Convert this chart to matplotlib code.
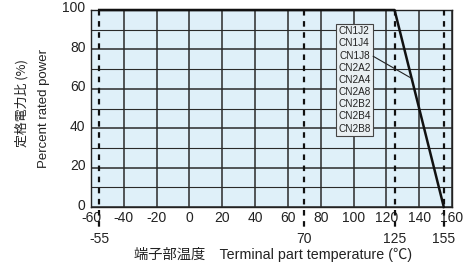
import matplotlib
matplotlib.use("Agg")
import matplotlib.pyplot as plt
from matplotlib.ticker import MultipleLocator
from matplotlib.transforms import ScaledTranslation

plt.rcParams['font.family'] = ['Liberation Sans', 'Noto Sans CJK JP', 'DejaVu Sans']
plt.rcParams['axes.unicode_minus'] = False

# data
curve_x = [-55, 125, 155]
curve_y = [100, 100, 0]
x_ticks = [-60, -40, -20, 0, 20, 40, 60, 80, 100, 120, 140, 160]
y_ticks = [0, 20, 40, 60, 80, 100]
marker_temps = [-55, 70, 125, 155]
models = ["CN1J2", "CN1J4", "CN1J8", "CN2A2", "CN2A4", "CN2A8", "CN2B2", "CN2B4", "CN2B8"]
annot_point = (136, 65)

fig = plt.figure(figsize=(4.72, 2.66), dpi=100)
ax = fig.add_axes([91/472, 1-207/266, (452-91)/472, (207-10)/266])
ax.set_facecolor('#dff0f9')
ax.set_xlim(-60, 160)
ax.set_ylim(0, 100)
ax.set_xticks(x_ticks)
ax.set_yticks(y_ticks)
ax.yaxis.set_minor_locator(MultipleLocator(10))
ax.tick_params(which='both', length=0, labelsize=10, colors='#222222', pad=3)
ax.tick_params(axis='y', pad=4)
for lbl in ax.get_yticklabels():
    lbl.set_transform(lbl.get_transform() + ScaledTranslation(0, 3/100, fig.dpi_scale_trans))
for s in ax.spines.values():
    s.set_color('#222222')
    s.set_linewidth(1.0)

ax.grid(which='major', axis='both', color='#2a2a2a', linewidth=1.1)
ax.grid(which='minor', axis='y', color='#2a2a2a', linewidth=0.8)
ax.set_axisbelow(True)

# dashed marker lines extending below the axis
for t in marker_temps:
    ax.plot([t, t], [100, -10], color='#111111', lw=1.6, ls=(0, (2.5, 2.5)), clip_on=False, zorder=3)
    ax.text(t, -0.125, str(t), transform=ax.get_xaxis_transform(), ha='center', va='top',
            fontsize=10, color='#222222')

# derating curve
ax.plot(curve_x, curve_y, color='#111111', lw=1.8, zorder=4, clip_on=False)

# model box
ax.text(100.5, 64.5, "\n".join(models), ha='center', va='center', fontsize=7.2,
        linespacing=1.27, color='#222222', zorder=5,
        bbox=dict(boxstyle='square,pad=0.2', fc='#e9eff2', ec='#444444', lw=0.8))
ax.plot([112, annot_point[0]], [76.5, annot_point[1]], color='#222222', lw=0.8, zorder=5)

fig.text(22/472, 1-103/266, "定格電力比 (%)", rotation=90, ha='center', va='center',
         fontsize=9.3, color='#222222', family=['Noto Sans CJK JP'])
fig.text(44/472, 1-108/266, "Percent rated power", rotation=90, ha='center', va='center',
         fontsize=9.5, color='#222222')
fig.text(273/472, 1-255/266, "端子部温度　Terminal part temperature (℃)", ha='center', va='center',
         fontsize=10.3, color='#222222', family=['Liberation Sans', 'Noto Sans CJK JP'])

fig.savefig("out.png", dpi=100)
